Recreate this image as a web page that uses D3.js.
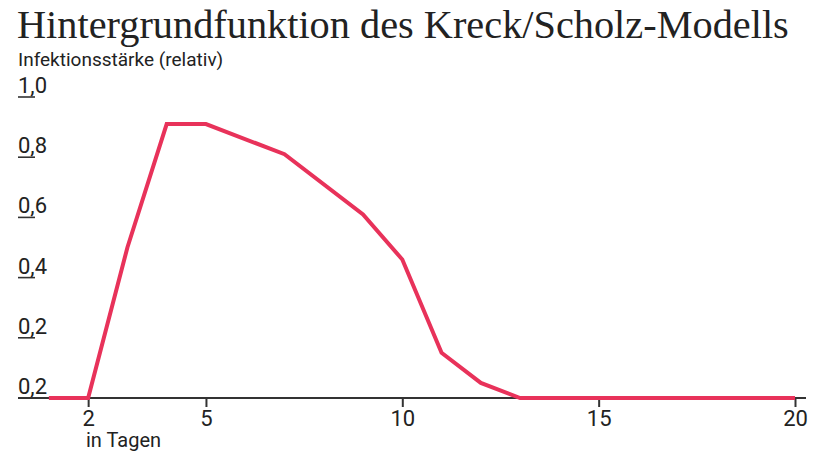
<!DOCTYPE html>
<html>
<head>
<meta charset="utf-8">
<script src="https://cdn.jsdelivr.net/npm/d3@7"></script>
<style>
  body { margin: 0; background: #fff; }
  text { fill: #222; }
</style>
</head>
<body>
<div id="plot"></div>
<script>
// data
var days = [1, 2, 3, 4, 5, 7, 9, 10, 11, 12, 13, 20];
var strength = [0, 0, 0.50, 0.91, 0.91, 0.81, 0.61, 0.46, 0.15, 0.05, 0, 0];
var yTicks = [0, 0.2, 0.4, 0.6, 0.8, 1.0];
var yTickLabels = ['0,2', '0,2', '0,4', '0,6', '0,8', '1,0']; // bottom one reads 0,2 in the original
var xTicks = [2, 5, 10, 15, 20];

var width = 833;
var height = 461;
var labelFont = '"Liberation Sans Narrow", Roboto, "Liberation Sans", sans-serif';

var svg = d3.select('#plot')
  .append('svg')
  .attr('width', width)
  .attr('height', height);

var x = d3.scaleLinear().domain([0, 20]).range([9.6, 795]);
var y = d3.scaleLinear().domain([0, 1]).range([398, 97]);

// title, squeezed to the width of the original
var title = svg.append('text')
  .attr('x', 17)
  .attr('y', 38)
  .style('font-family', '"Liberation Serif", "DejaVu Serif", serif')
  .style('font-size', '36px')
  .text('Hintergrundfunktion des Kreck/Scholz-Modells');
var tw = title.node().getComputedTextLength();
title.style('font-size', (36 * 772 / tw) + 'px');

svg.append('text')
  .attr('x', 18)
  .attr('y', 66)
  .style('font-family', labelFont)
  .style('font-size', '19px')
  .text('Infektionsstärke (relativ)');

// y ticks: short underline with the label sitting on it
var yt = svg.append('g');
yt.selectAll('line')
  .data(yTicks.slice(1))
  .enter().append('line')
  .attr('x1', 18).attr('x2', 35)
  .attr('y1', function (d) { return y(d); })
  .attr('y2', function (d) { return y(d); })
  .attr('stroke', '#333')
  .attr('stroke-width', 1.6);
yt.selectAll('text')
  .data(yTicks)
  .enter().append('text')
  .attr('x', 18)
  .attr('y', function (d) { return y(d) - 4; })
  .style('font-family', labelFont)
  .style('font-size', '22px')
  .text(function (d, i) { return yTickLabels[i]; });

// x axis
var xAxis = d3.axisBottom(x)
  .tickValues(xTicks)
  .tickSize(9)
  .tickPadding(3)
  .tickSizeOuter(0);
var gx = svg.append('g')
  .attr('transform', 'translate(0,' + y(0) + ')')
  .call(xAxis);
gx.select('.domain').remove();
gx.selectAll('line').attr('stroke', '#333').attr('stroke-width', 2);
gx.selectAll('text')
  .style('font-family', labelFont)
  .style('font-size', '22px')
  .attr('fill', '#222');

svg.append('line')
  .attr('x1', 18).attr('x2', 806)
  .attr('y1', y(0)).attr('y2', y(0))
  .attr('stroke', '#333')
  .attr('stroke-width', 2);

svg.append('text')
  .attr('x', 86)
  .attr('y', 447)
  .style('font-family', labelFont)
  .style('font-size', '20px')
  .text('in Tagen');

// the curve
var line = d3.line()
  .x(function (d) { return x(d); })
  .y(function (d, i) { return y(strength[i]); });

svg.append('path')
  .attr('d', line(days))
  .attr('fill', 'none')
  .attr('stroke', '#e8325a')
  .attr('stroke-width', 4)
  .attr('stroke-linejoin', 'miter');
</script>
</body>
</html>
